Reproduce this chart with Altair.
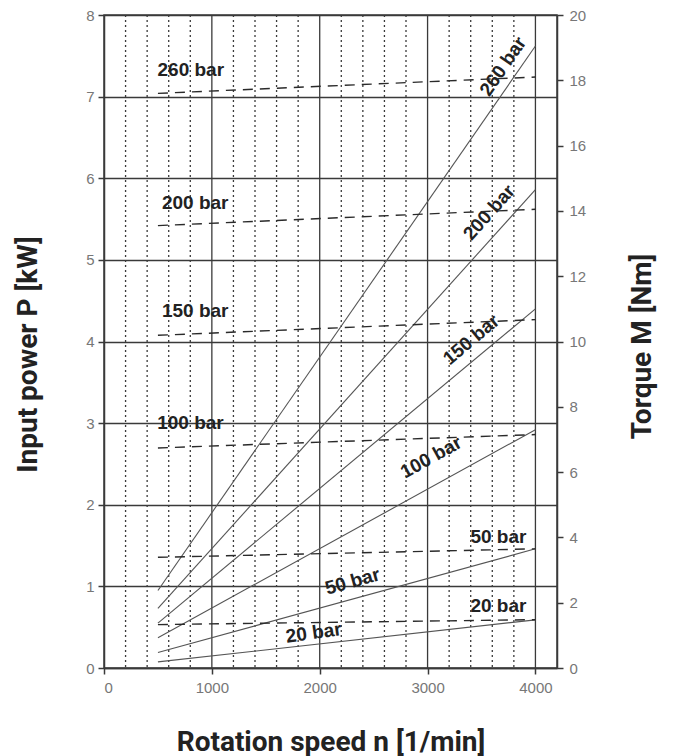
import altair as alt
import pandas as pd

# ---- data ----
pressures = ["20 bar", "50 bar", "100 bar", "150 bar", "200 bar", "260 bar"]
n_start = 500
n_end = 4000
power_start = [0.075, 0.19, 0.37, 0.55, 0.73, 0.95]     # kW at 500 1/min
power_end = [0.59, 1.46, 2.92, 4.40, 5.86, 7.62]        # kW at 4000 1/min
torque_start = [1.33, 3.39, 6.74, 10.19, 13.55, 17.6]   # Nm at 500 1/min
torque_end = [1.48, 3.65, 7.15, 10.67, 14.05, 18.1]     # Nm at 4000 1/min

x_ticks = [0, 1000, 2000, 3000, 4000]
y_left_ticks = [0, 1, 2, 3, 4, 5, 6, 7, 8]
y_right_ticks = [0, 2, 4, 6, 8, 10, 12, 14, 16, 18, 20]
major_n = [1000, 2000, 3000, 4000]
minor_n = [200, 400, 600, 800, 1200, 1400, 1600, 1800, 2200, 2400, 2600, 2800,
           3200, 3400, 3600, 3800]

# labels along the power lines
rot_label_n = [1944, 2304, 3033, 3405, 3572, 3700]
rot_label_p = [0.43, 1.06, 2.58, 4.02, 5.58, 7.37]
rot_label_angle = [352, 344.5, 331, 320, 311.8, 304.5]

# labels at the torque lines
left_labels = ["100 bar", "150 bar", "200 bar", "260 bar"]
left_label_n = [493, 537, 537, 496]
left_label_p = [3.0, 4.37, 5.70, 7.33]
right_labels = ["20 bar", "50 bar"]
right_label_n = [3916, 3916]
right_label_p = [0.755, 1.6]

# ---- tables ----
power_df = pd.DataFrame(
    [{"p": p, "n": n_start, "P": a} for p, a in zip(pressures, power_start)]
    + [{"p": p, "n": n_end, "P": b} for p, b in zip(pressures, power_end)]
)
torque_df = pd.DataFrame(
    [{"p": p, "n": n_start, "M": a} for p, a in zip(pressures, torque_start)]
    + [{"p": p, "n": n_end, "M": b} for p, b in zip(pressures, torque_end)]
)
rot_df = pd.DataFrame({"t": pressures, "n": rot_label_n, "P": rot_label_p,
                       "ang": rot_label_angle})
left_df = pd.DataFrame({"t": left_labels, "n": left_label_n, "P": left_label_p})
right_df = pd.DataFrame({"t": right_labels, "n": right_label_n, "P": right_label_p})
major_df = pd.DataFrame({"n": major_n})
minor_df = pd.DataFrame({"n": minor_n})

INK = "#3a3a3a"
LABEL = "#777777"
TITLE_FONT = "Roboto"
TEXT_FONT = "Liberation Sans"

xscale = alt.Scale(domain=[0, 4200], nice=False)
yscale = alt.Scale(domain=[0, 8], nice=False)

x_axis = alt.Axis(values=x_ticks, format="d", title="Rotation speed n [1/min]", grid=False,
                  labelFont=TEXT_FONT, labelFontSize=15, labelColor=LABEL,
                  labelPadding=6, tickSize=6, tickColor=INK, tickWidth=1.5,
                  domainColor=INK, domainWidth=1.5,
                  titleFont=TITLE_FONT, titleFontSize=28, titleFontWeight="bold",
                  titleColor="#222222", titlePadding=33)

y_axis = alt.Axis(values=y_left_ticks, format="d", title="Input power P [kW]", grid=True,
                  gridColor=INK, gridWidth=1.3, gridOpacity=1,
                  labelFont=TEXT_FONT, labelFontSize=15, labelColor=LABEL,
                  labelPadding=4, tickSize=6, tickColor=INK, tickWidth=1.5,
                  domainColor=INK, domainWidth=1.5,
                  titleFont=TITLE_FONT, titleFontSize=28, titleFontWeight="bold",
                  titleColor="#222222", titlePadding=43, titleY=339, orient="left")

y2_axis = alt.Axis(values=y_right_ticks, format="d", title="Torque M [Nm]", grid=False,
                   labelFont=TEXT_FONT, labelFontSize=15, labelColor=LABEL,
                   labelPadding=6, tickSize=6, tickColor=INK, tickWidth=1.5,
                   domainColor=INK, domainWidth=1.5,
                   titleFont=TITLE_FONT, titleFontSize=28, titleFontWeight="bold",
                   titleColor="#222222", titlePadding=71, titleAngle=270,
                   titleY=331, orient="right")

minor_rules = alt.Chart(minor_df).mark_rule(
    color=INK, strokeWidth=1.3, strokeDash=[2, 3]
).encode(x=alt.X("n:Q", scale=xscale, axis=x_axis))

major_rules = alt.Chart(major_df).mark_rule(
    color=INK, strokeWidth=1.3
).encode(x=alt.X("n:Q", scale=xscale))

power_lines = alt.Chart(power_df).mark_line(
    color="#555555", strokeWidth=1.1
).encode(
    x=alt.X("n:Q", scale=xscale),
    y=alt.Y("P:Q", scale=yscale, axis=y_axis),
    detail="p:N",
)

text_style = dict(font=TEXT_FONT, fontSize=19, fontWeight="bold", color="#222222")

rot_text = alt.Chart(rot_df).mark_text(
    align="center", baseline="middle", **text_style
).encode(
    x=alt.X("n:Q", scale=xscale),
    y=alt.Y("P:Q", scale=yscale),
    text="t:N",
    angle=alt.Angle("ang:Q", scale=None),
)

left_text = alt.Chart(left_df).mark_text(
    align="left", baseline="middle", **text_style
).encode(
    x=alt.X("n:Q", scale=xscale),
    y=alt.Y("P:Q", scale=yscale),
    text="t:N",
)

right_text = alt.Chart(right_df).mark_text(
    align="right", baseline="middle", **text_style
).encode(
    x=alt.X("n:Q", scale=xscale),
    y=alt.Y("P:Q", scale=yscale),
    text="t:N",
)

left_group = alt.layer(minor_rules, major_rules, power_lines, rot_text,
                       left_text, right_text)

torque_lines = alt.Chart(torque_df).mark_line(
    color="#2a2a2a", strokeWidth=1.4, strokeDash=[10, 7]
).encode(
    x=alt.X("n:Q", scale=xscale),
    y=alt.Y("M:Q", scale=alt.Scale(domain=[0, 20], nice=False), axis=y2_axis),
    detail="p:N",
)

chart = alt.layer(left_group, torque_lines).resolve_scale(
    y="independent"
).properties(
    width=453, height=653,
    autosize=alt.AutoSizeParams(type="none"),
    padding={"left": 96, "top": 7, "right": 108, "bottom": 90},
    background="white",
).configure_view(
    stroke=INK, strokeWidth=1.5
)

chart.save("out.html", embed_options={"renderer": "svg", "actions": False})
